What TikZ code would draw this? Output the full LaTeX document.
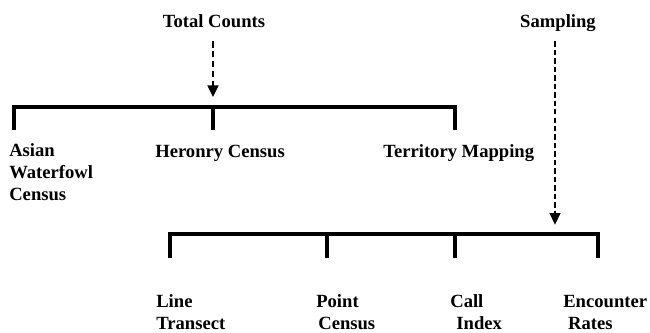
\documentclass[tikz,border=0pt]{standalone}
\usepackage{fontspec}
\setmainfont{Liberation Serif}
\usepackage{tikz}
\usetikzlibrary{arrows.meta}

\begin{document}
\begin{tikzpicture}[x=0.65pt, y=-0.65pt,
title/.style={
		font=\fontsize{12.1}{14}\selectfont\bfseries,
		inner sep=0pt,
		anchor=base,
		},
method/.style={
		font=\fontsize{12.1}{14}\selectfont\bfseries,
		inner sep=0pt,
		align=left,
		anchor=base west, % base of the last line
		},
bar/.style={line width=2.2pt},
flow/.style={->, >={Triangle[length=7.5pt, width=7pt]}, dashed,
		dash pattern=on 4pt off 2.4pt, line width=1.2pt},
]

\useasboundingbox (0,0) rectangle (650,333);

\def \topbar {107}
\def \lowbar {234}

% headings
\node[title] (total) at (214,27) {Total Counts};
\node[title] (sampling) at (558,27) {Sampling};

% hubs on the two bars
\coordinate (hub1) at (213,\topbar);
\coordinate (hub2) at (555,\lowbar);

\draw[flow, shorten <=9pt, shorten >=6.5pt] (total.south -| hub1) -- (hub1);
\draw[flow, line width=0.8pt, dash pattern=on 3.5pt off 2pt, shorten <=6.5pt, shorten >=6pt]
  (sampling.south -| hub2) -- (hub2);

% upper bracket
\foreach \x/\name in {14/asian, 213/heronry, 455/territory}
  \coordinate (\name-tick) at (\x,130);
\draw[bar] (asian-tick) |- (territory-tick |- hub1) -- (territory-tick);
\draw[bar] (heronry-tick |- hub1) -- (heronry-tick);

% lower bracket
\foreach \x/\name in {170/line, 327/point, 455/call, 598/encounter}
  \coordinate (\name-tick) at (\x,258);
\draw[bar] (line-tick) |- (encounter-tick |- hub2) -- (encounter-tick);
\foreach \name in {point, call}
  \draw[bar] (\name-tick |- hub2) -- (\name-tick);

% methods
\node[method] (asian) at (9,200) {Asian\\Waterfowl\\Census};
\node[method] (heronry) at (155,157) {Heronry Census};
\node[method] (territory) at (383,157) {Territory Mapping};

\node[method] (line) at (156,329.5) {Line\\Transect};
\node[method] (point) at (316,329.5) {Point\\\hspace*{1.3pt}Census};
\node[method] (call) at (450,329.5) {Call\\\hspace*{4pt}Index};
\node[method] (encounter) at (563,329.5) {Encounter\\\hspace*{3.2pt}Rates};

\end{tikzpicture}
\end{document}
